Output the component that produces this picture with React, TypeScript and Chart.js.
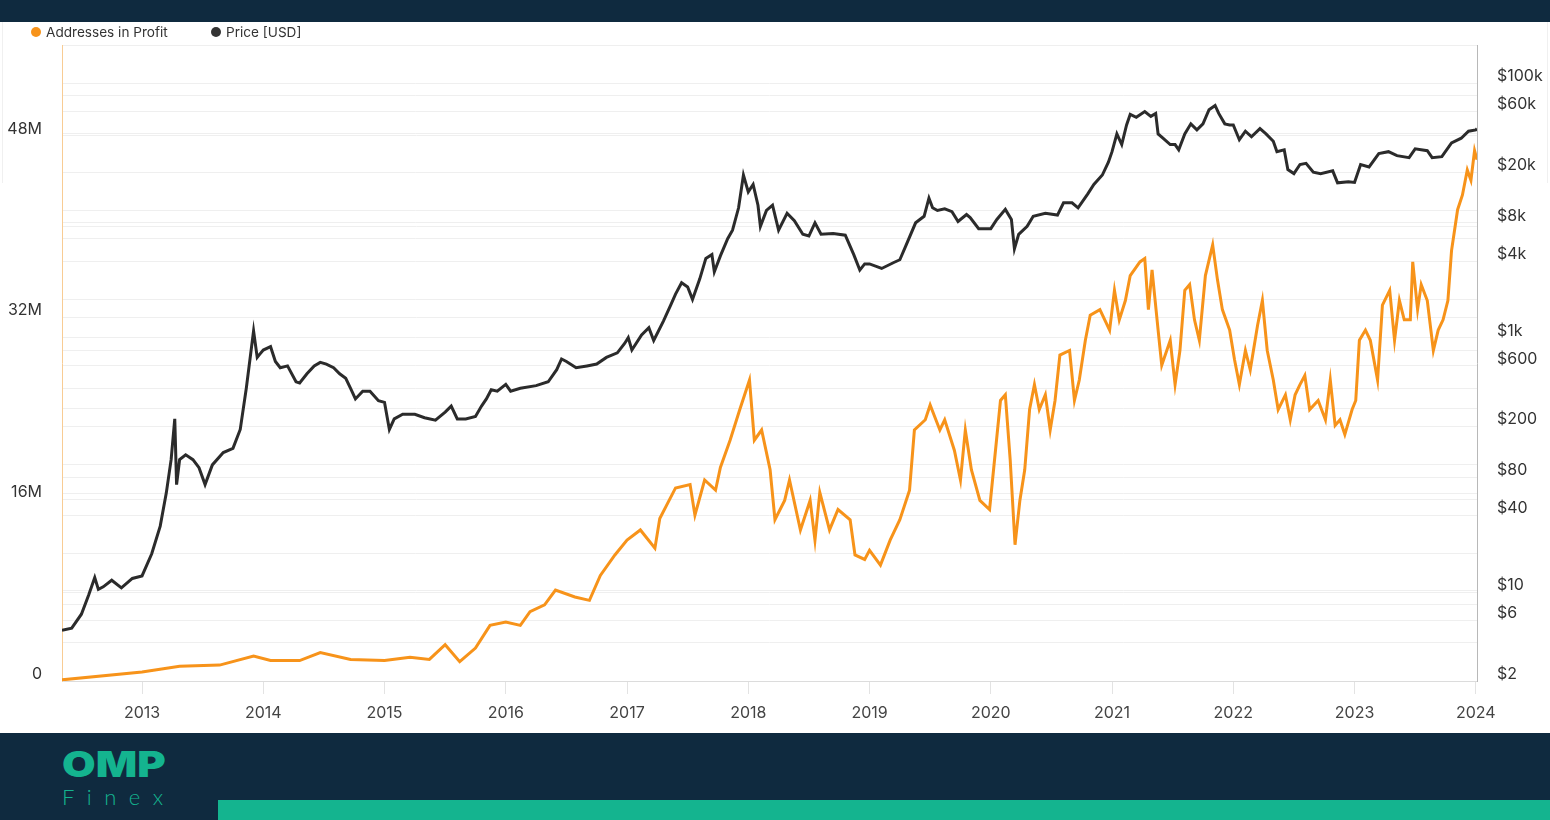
import React, { useEffect, useRef } from "react";
import { Chart, registerables } from "chart.js";

Chart.register(...registerables);

// ---- axis tick values ----
const yearTicks = [2013, 2014, 2015, 2016, 2017, 2018, 2019, 2020, 2021, 2022, 2023, 2024];
const profitTicksM = [0, 8, 16, 24, 32, 40, 48, 56];
const profitLabelTicksM = [0, 16, 32, 48];
const priceGridTicks = [2, 4, 6, 8, 10, 20, 40, 60, 80, 100, 200, 400, 600, 800, 1000, 2000, 4000, 6000, 8000, 10000, 20000, 40000, 60000, 80000, 100000, 200000];
const priceLabelTicks = [2, 6, 10, 40, 80, 200, 600, 1000, 4000, 8000, 20000, 60000, 100000];

// ---- Price [USD] (decimal year, value) ----
const priceYears = [
  2012.34, 2012.42, 2012.5, 2012.56, 2012.61, 2012.64, 2012.68, 2012.75, 2012.83, 2012.92,
  2013.0, 2013.08, 2013.15, 2013.2, 2013.24, 2013.27, 2013.285, 2013.31, 2013.36, 2013.42, 2013.47, 2013.52, 2013.58, 2013.67, 2013.75, 2013.81, 2013.86, 2013.9, 2013.92, 2013.95, 2013.97,
  2014.0, 2014.06, 2014.1, 2014.14, 2014.2, 2014.27, 2014.3, 2014.36, 2014.42, 2014.47, 2014.52, 2014.58, 2014.63, 2014.68, 2014.72, 2014.76, 2014.82, 2014.88, 2014.95,
  2015.0, 2015.04, 2015.08, 2015.15, 2015.25, 2015.33, 2015.42, 2015.5, 2015.55, 2015.6, 2015.67, 2015.75, 2015.8, 2015.84, 2015.88, 2015.93,
  2016.0, 2016.04, 2016.12, 2016.25, 2016.35, 2016.42, 2016.46, 2016.5, 2016.58, 2016.67, 2016.75, 2016.83, 2016.92, 2016.98,
  2017.01, 2017.04, 2017.12, 2017.18, 2017.22, 2017.3, 2017.36, 2017.4, 2017.45, 2017.5, 2017.54, 2017.6, 2017.65, 2017.7, 2017.72, 2017.77, 2017.83, 2017.87, 2017.92, 2017.96,
  2018.0, 2018.04, 2018.08, 2018.1, 2018.15, 2018.2, 2018.25, 2018.32, 2018.38, 2018.45, 2018.5, 2018.55, 2018.6, 2018.7, 2018.8, 2018.87, 2018.92, 2018.96,
  2019.0, 2019.1, 2019.2, 2019.25, 2019.3, 2019.38, 2019.45, 2019.49, 2019.52, 2019.56, 2019.62, 2019.68, 2019.73, 2019.8, 2019.83, 2019.9, 2019.96,
  2020.0, 2020.05, 2020.12, 2020.17, 2020.195, 2020.23, 2020.3, 2020.35, 2020.45, 2020.55, 2020.6, 2020.67, 2020.72, 2020.8, 2020.85, 2020.92, 2020.97,
  2021.0, 2021.04, 2021.08, 2021.12, 2021.15, 2021.2, 2021.27, 2021.32, 2021.36, 2021.38, 2021.42, 2021.48, 2021.52, 2021.55, 2021.6, 2021.65, 2021.7, 2021.75, 2021.8, 2021.85, 2021.88, 2021.93, 2021.97,
  2022.0, 2022.05, 2022.1, 2022.15, 2022.22, 2022.27, 2022.33, 2022.36, 2022.42, 2022.45, 2022.5, 2022.55, 2022.6, 2022.66, 2022.72, 2022.82, 2022.86, 2022.95,
  2023.0, 2023.05, 2023.12, 2023.2, 2023.28, 2023.35, 2023.45, 2023.5, 2023.6, 2023.64, 2023.72, 2023.8, 2023.88, 2023.94, 2024.0, 2024.01,
];
const priceValues = [
  5.0, 5.2, 6.7, 9.5, 13, 10.5, 11, 12.4, 10.8, 12.8,
  13.4, 20, 33, 60, 110, 230, 70, 110, 120, 110, 95, 70, 100, 125, 135, 190, 400, 800, 1130, 700, 740,
  800, 850, 650, 580, 600, 450, 440, 520, 600, 640, 620, 580, 520, 480, 400, 330, 380, 380, 320,
  310, 190, 230, 250, 250, 235, 225, 260, 290, 230, 230, 240, 290, 330, 390, 380,
  430, 380, 400, 420, 450, 560, 680, 650, 580, 600, 620, 700, 760, 900,
  1000, 800, 1050, 1200, 950, 1350, 1800, 2200, 2700, 2500, 2000, 2900, 4200, 4500, 3300, 4400, 6000, 7000, 10500, 19000,
  14000, 16000, 11000, 7500, 10000, 11000, 7000, 9500, 8300, 6500, 6300, 8000, 6500, 6600, 6400, 4500, 3400, 3800,
  3800, 3500, 3900, 4100, 5300, 8000, 9000, 12500, 10500, 10000, 10300, 9800, 8200, 9300, 8800, 7200, 7200,
  7200, 8500, 10200, 8500, 5000, 6500, 7500, 9000, 9500, 9200, 11500, 11500, 10500, 13500, 16000, 19000, 24000,
  29000, 40000, 33000, 47000, 57000, 54000, 60000, 55000, 58000, 40000, 37000, 33000, 33000, 30000, 40000, 48000, 43000, 48000, 62000, 67000, 58000, 48000, 47000,
  47000, 36000, 42000, 38000, 44000, 40000, 35000, 29000, 30000, 21000, 19500, 23000, 23500, 20000, 19500, 20500, 16500, 16800,
  16600, 23000, 22000, 28000, 29000, 27000, 26000, 30500, 29500, 26000, 26500, 34000, 37000, 42000, 43000, 44000,
];

// ---- Addresses in Profit (decimal year, millions) ----
const profitYears = [
  2012.34, 2013.0, 2013.31, 2013.64, 2013.92, 2014.06, 2014.3, 2014.47, 2014.72, 2015.0,
  2015.21, 2015.37, 2015.5, 2015.62, 2015.75, 2015.87, 2016.0, 2016.12, 2016.2, 2016.32,
  2016.41, 2016.57, 2016.69, 2016.78, 2016.9, 2017.0, 2017.11, 2017.23, 2017.27, 2017.4,
  2017.52, 2017.56, 2017.64, 2017.73, 2017.77, 2017.85, 2017.93, 2017.97, 2018.01, 2018.05,
  2018.11, 2018.18, 2018.22, 2018.3, 2018.34, 2018.43, 2018.51, 2018.55, 2018.59, 2018.67,
  2018.74, 2018.84, 2018.88, 2018.96, 2019.0, 2019.09, 2019.17, 2019.25, 2019.33, 2019.37,
  2019.46, 2019.5, 2019.58, 2019.62, 2019.7, 2019.75, 2019.79, 2019.84, 2019.91, 2019.99,
  2020.08, 2020.12, 2020.16, 2020.2, 2020.24, 2020.28, 2020.32, 2020.36, 2020.4, 2020.45,
  2020.49, 2020.53, 2020.57, 2020.65, 2020.69, 2020.73, 2020.78, 2020.82, 2020.9, 2020.98,
  2021.02, 2021.06, 2021.11, 2021.15, 2021.23, 2021.27, 2021.3, 2021.33, 2021.38, 2021.41,
  2021.48, 2021.52, 2021.56, 2021.6, 2021.64, 2021.68, 2021.72, 2021.77, 2021.83, 2021.87,
  2021.91, 2021.97, 2022.01, 2022.05, 2022.1, 2022.14, 2022.2, 2022.24, 2022.28, 2022.33,
  2022.37, 2022.43, 2022.47, 2022.51, 2022.55, 2022.59, 2022.63, 2022.7, 2022.76, 2022.8,
  2022.84, 2022.88, 2022.92, 2022.98, 2023.01, 2023.04, 2023.09, 2023.13, 2023.19, 2023.23,
  2023.29, 2023.33, 2023.37, 2023.41, 2023.46, 2023.48, 2023.52, 2023.55, 2023.6, 2023.65,
  2023.69, 2023.73, 2023.77, 2023.8, 2023.85, 2023.89, 2023.93, 2023.96, 2023.99, 2024.01,
];
const profitValues = [
  0.1, 0.8, 1.3, 1.4, 2.2, 1.8, 1.8, 2.5, 1.9, 1.8,
  2.1, 1.9, 3.2, 1.7, 2.9, 4.9, 5.2, 4.9, 6.1, 6.7,
  8.0, 7.4, 7.1, 9.3, 11.1, 12.4, 13.3, 11.7, 14.3, 17.0,
  17.3, 14.6, 17.7, 16.8, 18.8, 21.2, 23.9, 25.2, 26.5, 21.2,
  22.1, 18.6, 14.2, 15.9, 17.7, 13.3, 15.9, 12.4, 16.6, 13.3,
  15.1, 14.2, 11.1, 10.7, 11.5, 10.2, 12.4, 14.2, 16.8, 22.1,
  23.0, 24.3, 22.1, 23.0, 20.3, 17.7, 22.1, 18.6, 15.9, 15.1,
  24.7, 25.2, 19.5, 12.0, 15.9, 18.6, 23.9, 26.1, 23.9, 25.2,
  22.1, 24.7, 28.7, 29.1, 24.7, 26.5, 30.0, 32.2, 32.7, 30.9,
  34.4, 31.8, 33.5, 35.7, 36.9, 37.2, 32.7, 36.2, 30.9, 27.8,
  30.0, 26.1, 29.1, 34.4, 34.9, 31.8, 30.0, 35.7, 38.4, 35.3,
  32.7, 30.9, 28.3, 26.1, 29.1, 27.4, 31.3, 33.5, 29.1, 26.5,
  23.9, 25.2, 23.0, 25.2, 26.1, 26.9, 23.9, 24.7, 23.0, 26.5,
  22.5, 23.0, 21.7, 23.9, 24.7, 30.0, 30.9, 30.0, 26.5, 33.1,
  34.4, 30.0, 33.5, 31.8, 31.8, 36.9, 32.7, 34.9, 33.5, 29.1,
  30.9, 31.8, 33.5, 37.9, 41.5, 42.8, 45.0, 44.1, 46.7, 45.9,
];

const ORANGE = "#f7931a";
const BLACK = "#2b2b2b";
const NAVY = "#0f2a3f";
const TEAL = "#14b48f";
const GRID = "#efefef";
const FONT = "Inter, 'Noto Sans', sans-serif";

function fmtPrice(v: number): string {
  return v >= 1000 ? "$" + v / 1000 + "k" : "$" + v;
}

function ChartCanvas() {
  const ref = useRef<HTMLCanvasElement | null>(null);
  useEffect(() => {
    if (!ref.current) return;
    const priceData = priceYears.map((x, i) => ({ x, y: priceValues[i] }));
    const profitData = profitYears.map((x, i) => ({ x, y: profitValues[i] }));
    const chart = new Chart(ref.current, {
      type: "line",
      data: {
        datasets: [
          {
            label: "Price [USD]",
            data: priceData,
            yAxisID: "y2",
            borderColor: BLACK,
            borderWidth: 3,
            pointRadius: 0,
            tension: 0,
          },
          {
            label: "Addresses in Profit",
            data: profitData,
            yAxisID: "y1",
            borderColor: ORANGE,
            borderWidth: 3,
            pointRadius: 0,
            tension: 0,
          },
        ],
      },
      options: {
        responsive: false,
        animation: false,
        layout: { padding: { top: 23, left: 0, right: 0, bottom: 0 } },
        plugins: { legend: { display: false }, tooltip: { enabled: false } },
        scales: {
          x: {
            type: "linear",
            min: 2012.34,
            max: 2024.01,
            afterBuildTicks: (s: any) => {
              s.ticks = yearTicks.map((v) => ({ value: v }));
            },
            afterFit: (s: any) => {
              s.height = 52;
              s.paddingLeft = 0;
              s.paddingRight = 0;
            },
            grid: { display: true, drawOnChartArea: false, drawTicks: true, tickLength: 13, color: "#e3e3e3" },
            border: { color: "#dcdcdc" },
            ticks: {
              autoSkip: false,
              maxRotation: 0,
              padding: 10,
              color: "#444",
              font: { family: FONT, size: 16 },
              callback: (v: any) => String(v),
            },
          },
          y1: {
            type: "linear",
            position: "left",
            min: 0,
            max: 56,
            afterBuildTicks: (s: any) => {
              s.ticks = profitTicksM.map((v) => ({ value: v }));
            },
            afterFit: (s: any) => {
              s.width = 62;
              s.paddingTop = 0;
              s.paddingBottom = 0;
            },
            grid: { color: GRID, drawTicks: false },
            border: { color: "#f8cc94" },
            ticks: {
              autoSkip: false,
              padding: 20,
              labelOffset: -7,
              color: "#333",
              font: { family: FONT, size: 16 },
              callback: (v: any) => (profitLabelTicksM.includes(v) ? (v === 0 ? "0" : v + "M") : ""),
            },
          },
          y2: {
            type: "logarithmic",
            position: "right",
            min: 2,
            max: 200000,
            afterBuildTicks: (s: any) => {
              s.ticks = priceGridTicks.map((v) => ({ value: v }));
            },
            afterFit: (s: any) => {
              s.width = 73;
              s.paddingTop = 0;
              s.paddingBottom = 0;
            },
            grid: { color: GRID, drawTicks: false },
            border: { color: "#b8b8b8" },
            ticks: {
              autoSkip: false,
              padding: 20,
              labelOffset: -7,
              color: "#333",
              font: { family: FONT, size: 16 },
              callback: (v: any) => (priceLabelTicks.includes(v) ? fmtPrice(v) : ""),
            },
          },
        },
      },
    });
    return () => chart.destroy();
  }, []);
  return <canvas ref={ref} width={1550} height={711} style={{ display: "block" }} />;
}

export default function App() {
  return (
    <div style={{ position: "fixed", left: 0, top: 0, width: 1550, height: 820, background: "#fff", overflow: "hidden", fontFamily: FONT }}>
      <div style={{ position: "absolute", left: 0, top: 0, width: 1550, height: 22, background: NAVY }} />
      <div style={{ position: "absolute", left: 2, top: 22, width: 1, height: 161, background: "#f0f0f0" }} />
      <div style={{ position: "absolute", left: 1547, top: 22, width: 1, height: 161, background: "#f0f0f0" }} />
      <div style={{ position: "absolute", left: 0, top: 22, width: 1550, height: 711 }}>
        <ChartCanvas />
      </div>
      {/* legend */}
      <div style={{ position: "absolute", left: 31, top: 27, width: 10, height: 10, borderRadius: 5, background: ORANGE }} />
      <div style={{ position: "absolute", left: 46, top: 23, height: 18, lineHeight: "18px", fontSize: 13.6, color: "#333" }}>Addresses in Profit</div>
      <div style={{ position: "absolute", left: 211, top: 27, width: 10, height: 10, borderRadius: 5, background: "#333" }} />
      <div style={{ position: "absolute", left: 226, top: 23, height: 18, lineHeight: "18px", fontSize: 13.6, color: "#333" }}>Price [USD]</div>
      {/* footer */}
      <div style={{ position: "absolute", left: 0, top: 733, width: 1550, height: 87, background: NAVY }} />
      <div style={{ position: "absolute", left: 218, top: 800, width: 1332, height: 20, background: TEAL }} />
      <div style={{ position: "absolute", left: 62, top: 743, fontSize: 35, fontWeight: 900, color: TEAL, lineHeight: "42px", letterSpacing: 0, fontFamily: "Inter, sans-serif", transform: "scaleX(1.24)", transformOrigin: "left center" }}>OMP</div>
      <div style={{ position: "absolute", left: 62, top: 784, fontSize: 22, fontWeight: 300, color: TEAL, lineHeight: "26px", letterSpacing: 12.5, fontFamily: "Lato, Inter, sans-serif" }}>Finex</div>
    </div>
  );
}
